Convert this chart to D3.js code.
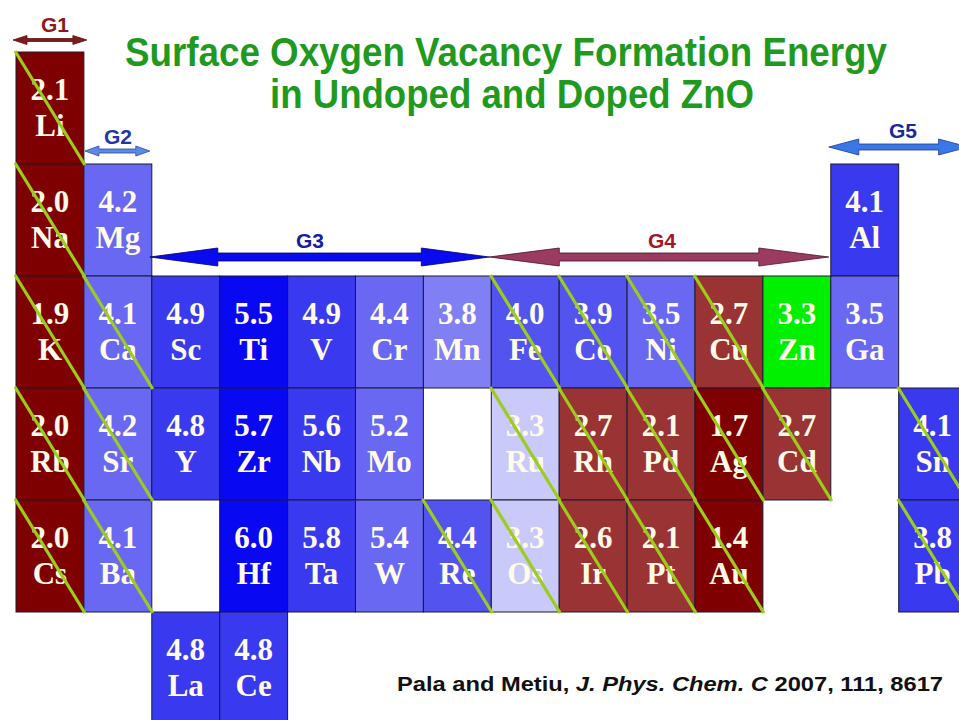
<!DOCTYPE html>
<html>
<head>
<meta charset="utf-8">
<script src="https://cdn.jsdelivr.net/npm/d3@7"></script>
<style>
  body { margin: 0; background: #fff; }
  svg { display: block; }
  .cell text { font-family: 'Liberation Serif', 'Times New Roman', serif; font-weight: bold; font-size: 31px; fill: #fffbe8; text-anchor: middle; }
  .glabel { font-family: 'Liberation Sans', Arial, sans-serif; font-weight: bold; font-size: 21px; text-anchor: middle; }
</style>
</head>
<body>
<div id="chart-area"></div>
<script>
// element data: symbol, energy (eV), table column, table row, shade class, crossed out
const symbols = ['Li','Na','K','Rb','Cs','Mg','Ca','Sr','Ba','Sc','Y','La','Ti','Zr','Hf','Ce',
  'V','Nb','Ta','Cr','Mo','W','Mn','Re','Fe','Ru','Os','Co','Rh','Ir','Ni','Pd','Pt',
  'Cu','Ag','Au','Zn','Cd','Al','Ga','Sn','Pb'];
const energies = ['2.1','2.0','1.9','2.0','2.0','4.2','4.1','4.2','4.1','4.9','4.8','4.8','5.5','5.7','6.0','4.8',
  '4.9','5.6','5.8','4.4','5.2','5.4','3.8','4.4','4.0','3.3','3.3','3.9','2.7','2.6','3.5','2.1','2.1',
  '2.7','1.7','1.4','3.3','2.7','4.1','3.5','4.1','3.8'];
const columns = [0,0,0,0,0,1,1,1,1,2,2,2,3,3,3,3,
  4,4,4,5,5,5,6,6,7,7,7,8,8,8,9,9,9,
  10,10,10,11,11,12,12,13,13];
const rows = [0,1,2,3,4,1,2,3,4,2,3,5,2,3,4,5,
  2,3,4,2,3,4,2,4,2,3,4,2,3,4,2,3,4,
  2,3,4,2,3,1,2,3,4];
const shades = ['dark','dark','dark','dark','dark','light','light','light','light','mid','mid','mid','deep','deep','deep','mid',
  'mid','mid','mid','light','light','light','lighter','mid2','mid2','pale','pale','mid2','red','red','light','red','red',
  'red','dark','dark','zn','red','mid','light','mid','mid'];
const crossed = [1,1,1,1,1,0,1,1,1,0,0,0,0,0,0,0,
  0,0,0,0,0,0,0,1,1,1,1,1,1,1,1,1,1,
  1,1,1,0,1,0,0,1,1];

const groupNames = ['G1','G2','G3','G4','G5'];
const groupFrom = [0,1,2,7,12];
const groupTo = [1,2,7,12,14];

const titleLines = ['Surface Oxygen Vacancy Formation Energy', 'in Undoped and Doped ZnO'];

const W = 959, H = 720;
const svg = d3.select('#chart-area').append('svg').attr('width', W).attr('height', H);

const x = d3.scaleBand().domain(d3.range(15)).range([16, 16 + 15 * 67.9]);
const y = d3.scaleBand().domain(d3.range(6)).range([52, 52 + 6 * 112]);
const cw = x.bandwidth(), ch = y.bandwidth();

const shadeColor = d3.scaleOrdinal()
  .domain(['dark','red','pale','lighter','light','mid2','mid','deep','zn'])
  .range(['#7f0000','#9a3333','#c9c9fa','#8080f4','#6868f2','#5353ef','#3939ef','#0808f2','#00f000']);

const elements = symbols.map((s, i) => ({
  sym: s, val: energies[i], col: columns[i], row: rows[i], shade: shades[i], crossed: crossed[i] === 1
}));

// title
svg.selectAll('text.title').data(titleLines).enter().append('text')
  .attr('class', 'title')
  .attr('x', (d, i) => i === 0 ? 506 : 512)
  .attr('y', (d, i) => i === 0 ? 66 : 108)
  .attr('text-anchor', 'middle')
  .attr('textLength', (d, i) => i === 0 ? 762 : 484)
  .attr('lengthAdjust', 'spacingAndGlyphs')
  .style('font-family', "'Liberation Sans Narrow', 'Liberation Sans', Arial, sans-serif")
  .style('font-weight', 'bold')
  .style('font-size', '40px')
  .style('fill', '#1f9a1f')
  .text(d => d);

// cells
const cells = svg.append('g').selectAll('g.cell').data(elements).enter().append('g')
  .attr('class', 'cell')
  .attr('transform', d => `translate(${x(d.col)},${y(d.row)})`);

cells.append('rect')
  .attr('width', cw).attr('height', ch)
  .attr('fill', d => shadeColor(d.shade))
  .attr('stroke', '#1a1a33').attr('stroke-width', 1);

cells.append('text').attr('x', cw / 2).attr('y', 48).text(d => d.val);
cells.append('text').attr('x', cw / 2).attr('y', 84).text(d => d.sym);

// crossing lines on top
svg.append('g').selectAll('line').data(elements.filter(d => d.crossed)).enter().append('line')
  .attr('x1', d => x(d.col) - 1).attr('y1', d => y(d.row) - 1)
  .attr('x2', d => x(d.col) + cw + 1).attr('y2', d => y(d.row) + ch + 1)
  .attr('stroke', '#9ccc1c').attr('stroke-width', 3.2);

// group arrows
const arrowPath = (x1, x2, yc, shaft, head, len) => {
  const p = [
    [x1, yc], [x1 + len, yc - head], [x1 + len, yc - shaft], [x2 - len, yc - shaft],
    [x2 - len, yc - head], [x2, yc], [x2 - len, yc + head], [x2 - len, yc + shaft],
    [x1 + len, yc + shaft], [x1 + len, yc + head]
  ];
  return 'M' + p.map(q => q.join(',')).join('L') + 'Z';
};

const arrowSpec = [
  { x1: x(0) - 3, x2: x(1) + 3, y: 40, shaft: 1.5, head: 4.5, len: 14, fill: '#7d1c1c', stroke: '#5a1010', lx: 55, ly: 32, tc: '#8b1a1a' },
  { x1: x(1) + 1, x2: x(2) - 2, y: 151, shaft: 2, head: 5, len: 14, fill: '#5a8ae6', stroke: '#2a4aa0', lx: 118, ly: 144, tc: '#2236a8' },
  { x1: x(2) - 2, x2: x(7) - 2, y: 257, shaft: 4, head: 9, len: 68, fill: '#0a0aee', stroke: '#000066', lx: 310, ly: 248, tc: '#1a1aa8' },
  { x1: x(7) - 2, x2: x(12) - 2, y: 257, shaft: 4, head: 9, len: 70, fill: '#9b3b62', stroke: '#4a1026', lx: 662, ly: 248, tc: '#a01828' },
  { x1: x(12) - 2, x2: x(14) + 2, y: 147, shaft: 3, head: 8, len: 30, fill: '#3a78e8', stroke: '#1a3a90', lx: 903, ly: 138, tc: '#1a2a9a' }
];

const grp = svg.append('g').selectAll('g').data(groupNames).enter().append('g');
grp.append('path')
  .attr('d', (d, i) => { const a = arrowSpec[i]; return arrowPath(a.x1, a.x2, a.y, a.shaft, a.head, a.len); })
  .attr('fill', (d, i) => arrowSpec[i].fill)
  .attr('stroke', (d, i) => arrowSpec[i].stroke)
  .attr('stroke-width', 0.8);
grp.append('text').attr('class', 'glabel')
  .attr('x', (d, i) => arrowSpec[i].lx)
  .attr('y', (d, i) => arrowSpec[i].ly)
  .attr('fill', (d, i) => arrowSpec[i].tc)
  .text(d => d);

// citation
const cite = svg.append('text')
  .attr('x', 397).attr('y', 691)
  .attr('textLength', 546).attr('lengthAdjust', 'spacingAndGlyphs')
  .style('font-family', "'Liberation Sans', Arial, sans-serif")
  .style('font-weight', 'bold').style('font-size', '20px').style('fill', '#111');
cite.append('tspan').text('Pala and Metiu, ');
cite.append('tspan').style('font-style', 'italic').text('J. Phys. Chem. C');
cite.append('tspan').text(' 2007, 111, 8617');
</script>
</body>
</html>
